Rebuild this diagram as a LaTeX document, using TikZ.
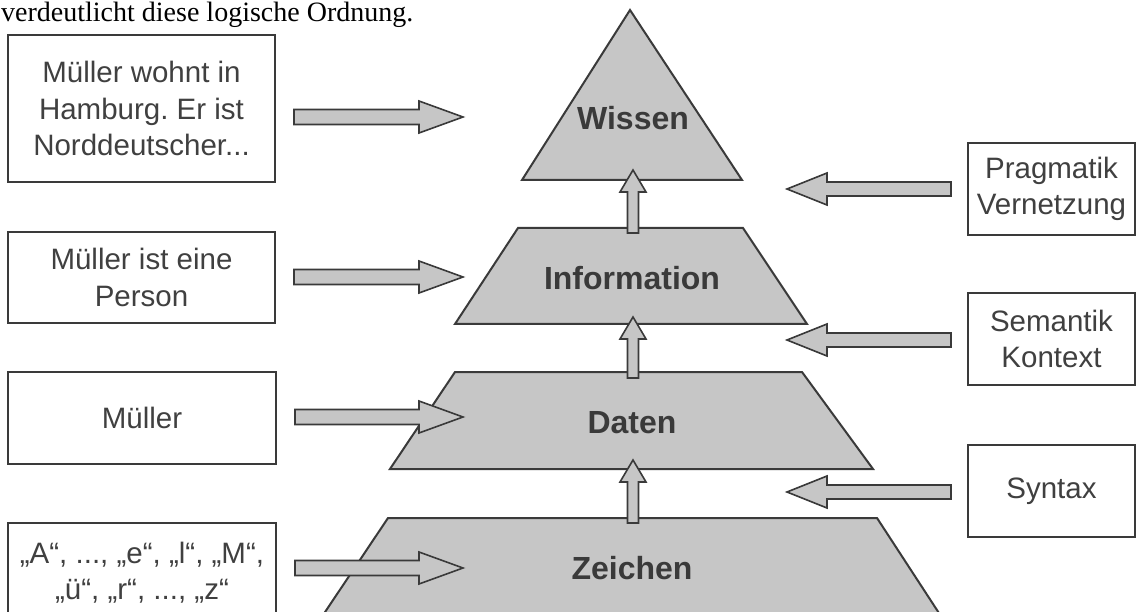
\documentclass[tikz,border=0pt]{standalone}
\usepackage{fontspec}
\setmainfont{Liberation Sans}
\newfontfamily\serifcap{Liberation Serif}
\usetikzlibrary{calc}
\frenchspacing
\definecolor{ink}{HTML}{3A3A3A}
\definecolor{fillgray}{HTML}{C6C6C6}
\definecolor{txt}{HTML}{404040}
\newcommand\blkright[2]{%
  \draw[blk] let \p1=(#1), \p2=(#2) in
    (\x1,\y2+7.5pt) -- (\x2-44pt,\y2+7.5pt) -- (\x2-44pt,\y2+16pt) -- (\x2,\y2)
    -- (\x2-44pt,\y2-16pt) -- (\x2-44pt,\y2-7.5pt) -- (\x1,\y2-7.5pt) -- cycle;}
\newcommand\blkleft[2]{%
  \draw[blk] let \p1=(#1), \p2=(#2) in
    (\x1,\y2+7pt) -- (\x2+40pt,\y2+7pt) -- (\x2+40pt,\y2+16pt) -- (\x2,\y2)
    -- (\x2+40pt,\y2-16pt) -- (\x2+40pt,\y2-7pt) -- (\x1,\y2-7pt) -- cycle;}
\newcommand\blkup[2]{%
  \draw[blk] let \p1=(#1), \p2=(#2) in
    (\x2-5.5pt,\y1) -- (\x2-5.5pt,\y2-22pt) -- (\x2-13pt,\y2-22pt) -- (\x2,\y2)
    -- (\x2+13pt,\y2-22pt) -- (\x2+5.5pt,\y2-22pt) -- (\x2+5.5pt,\y1) -- cycle;}
\begin{document}
\begin{tikzpicture}[x=1pt,y=-1pt,
  box/.style={draw=ink, line width=2pt, fill=white, text=txt, align=center,
    font=\fontsize{29.5}{36.5}\selectfont, inner sep=0pt},
  layer/.style={draw=ink, line width=2pt, fill=fillgray, line join=miter},
  lbl/.style={text=ink, font=\fontsize{32}{36}\bfseries\selectfont, inner sep=0pt},
  blk/.style={draw=ink, line width=1.6pt, fill=fillgray, line join=miter},
  captext/.style={font=\serifcap\fontsize{28}{32}\selectfont, text=black, inner sep=0pt, anchor=base west}]
\useasboundingbox (0,0) rectangle (1138,612);
\begin{scope}
\clip (0,0) rectangle (1138,612);
% caption line of the page
\node[captext] (cap) at (1,21.5) {verdeutlicht diese logische Ordnung.};

% pyramid
\draw[layer] (630,10) -- (742,180) -- (522,180) -- cycle;
\draw[layer] (518,228) -- (743,228) -- (807,324) -- (455,324) -- cycle;
\draw[layer] (455,372) -- (802,372) -- (873,469) -- (390,469) -- cycle;
\draw[layer] (388,518) -- (877,518) -- (950,630) -- (313,630) -- cycle;
\node[lbl] (wissen) at (633,118) {Wissen};
\node[lbl] (information) at (632,278) {Information};
\node[lbl] (daten) at (632,423) {Daten};
\node[lbl] (zeichen) at (632,568) {Zeichen};

% left boxes
\node[box, minimum width=267pt, minimum height=147pt] (b1) at (141.5,108.5)
  {Müller wohnt in\\Hamburg. Er ist\\Norddeutscher...};
\node[box, minimum width=267pt, minimum height=91pt] (b2) at (141.5,277.5)
  {Müller ist eine\\Person};
\node[box, minimum width=268pt, minimum height=92pt] (b3) at (142,418)
  {Müller};
\node[box, minimum width=268pt, minimum height=99pt] (b4) at (142,572.5)
  {„A“, ..., „e“, „l“, „M“,\\„ü“, „r“, ..., „z“};

% right boxes
\node[box, minimum width=167pt, minimum height=92pt] (r1) at (1051.5,189)
  {Pragmatik\\Vernetzung};
\node[box, minimum width=167pt, minimum height=92pt] (r2) at (1051.5,339)
  {Semantik\\Kontext};
\node[box, minimum width=167pt, minimum height=92pt] (r3) at (1051.5,491)
  {Syntax};

% arrow end points
\coordinate (tl1) at (463,117);
\coordinate (tl2) at (463,277);
\coordinate (tl3) at (463,417);
\coordinate (tl4) at (463,568);
\coordinate (tr1) at (787,189);
\coordinate (tr2) at (787,340);
\coordinate (tr3) at (787,492);
\coordinate (u1s) at (633,233);
\coordinate (u1t) at (633,170);
\coordinate (u2s) at (633,378);
\coordinate (u2t) at (633,317);
\coordinate (u3s) at (633,523);
\coordinate (u3t) at (633,460);

% up arrows
\blkup{u1s}{u1t}
\blkup{u2s}{u2t}
\blkup{u3s}{u3t}

% left arrows (boxes -> pyramid)
\blkright{$(b1.east)+(18,0)$}{tl1}
\blkright{$(b2.east)+(18,0)$}{tl2}
\blkright{$(b3.east)+(18,0)$}{tl3}
\blkright{$(b4.east)+(18,0)$}{tl4}

% right arrows (boxes -> pyramid)
\blkleft{$(r1.west)+(-16,0)$}{tr1}
\blkleft{$(r2.west)+(-16,0)$}{tr2}
\blkleft{$(r3.west)+(-16,0)$}{tr3}
\end{scope}
\end{tikzpicture}
\end{document}
